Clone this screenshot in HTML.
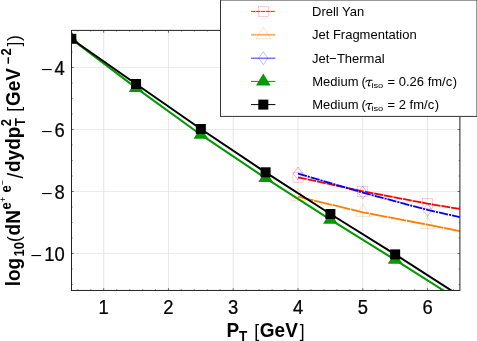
<!DOCTYPE html>
<html><head><meta charset="utf-8"><title>plot</title>
<style>
html,body{margin:0;padding:0;background:#fff;}
body{width:477px;height:341px;overflow:hidden;font-family:"Liberation Sans",sans-serif;}
svg{display:block;}
text{font-family:"Liberation Sans",sans-serif;fill:#000;}
.b{font-weight:bold;}
.tau{font-family:"Liberation Serif",serif;font-style:italic;}
</style></head><body>
<svg style="will-change:transform" width="477" height="341" viewBox="0 0 477 341">
<rect x="0" y="0" width="477" height="341" fill="#fff"/>
<defs><clipPath id="ax"><rect x="71.50" y="30.40" width="388.40" height="260.05"/></clipPath></defs>
<g stroke="#dedede" stroke-width="0.75" fill="none">
<line x1="103.69" y1="30.40" x2="103.69" y2="290.45"/>
<line x1="168.45" y1="30.40" x2="168.45" y2="290.45"/>
<line x1="233.22" y1="30.40" x2="233.22" y2="290.45"/>
<line x1="298.00" y1="30.40" x2="298.00" y2="290.45"/>
<line x1="362.76" y1="30.40" x2="362.76" y2="290.45"/>
<line x1="427.53" y1="30.40" x2="427.53" y2="290.45"/>
<line x1="71.50" y1="67.50" x2="459.90" y2="67.50" stroke="#e4e4e4"/>
<line x1="71.50" y1="129.50" x2="459.90" y2="129.50" stroke="#e4e4e4"/>
<line x1="71.50" y1="191.50" x2="459.90" y2="191.50" stroke="#e4e4e4"/>
<line x1="71.50" y1="253.50" x2="459.90" y2="253.50" stroke="#e4e4e4"/>
</g>
<g clip-path="url(#ax)" fill="none">
<polyline points="298.00,177.30 362.76,191.30 427.53,203.60 459.92,209.00" stroke="#ff0000" stroke-width="1.8" stroke-dasharray="8.85 0.9"/>
<rect x="293.00" y="172.30" width="10" height="10" stroke="#ff0000" stroke-width="0.45" stroke-opacity="0.42"/>
<rect x="357.76" y="186.30" width="10" height="10" stroke="#ff0000" stroke-width="0.45" stroke-opacity="0.42"/>
<rect x="422.53" y="198.60" width="10" height="10" stroke="#ff0000" stroke-width="0.45" stroke-opacity="0.42"/>
<polyline points="298.00,196.60 362.76,212.30 427.53,224.70 459.92,231.10" stroke="#ff7f00" stroke-width="1.8" stroke-dasharray="18.2 0.8" stroke-dashoffset="2.4"/>
<polygon points="298.00,188.80 290.69,200.60 305.30,200.60" stroke="#ff7f00" stroke-width="0.45" stroke-opacity="0.55"/>
<polygon points="362.76,204.50 355.46,216.30 370.06,216.30" stroke="#ff7f00" stroke-width="0.45" stroke-opacity="0.55"/>
<polygon points="427.53,216.90 420.23,228.70 434.83,228.70" stroke="#ff7f00" stroke-width="0.45" stroke-opacity="0.55"/>
<polyline points="298.00,173.60 362.76,192.60 427.53,209.90 459.92,217.20" stroke="#0000ff" stroke-width="1.8" stroke-dasharray="9.2 1.0 2.1 1.0"/>
<polygon points="298.00,167.10 302.60,173.60 298.00,180.10 293.39,173.60" stroke="#0000ff" stroke-width="0.45" stroke-opacity="0.55"/>
<polygon points="362.76,186.10 367.37,192.60 362.76,199.10 358.16,192.60" stroke="#0000ff" stroke-width="0.45" stroke-opacity="0.55"/>
<polygon points="427.53,203.40 432.13,209.90 427.53,216.40 422.93,209.90" stroke="#0000ff" stroke-width="0.45" stroke-opacity="0.55"/>
<polyline points="71.30,38.90 136.07,87.90 200.84,134.70 265.61,178.10 330.38,219.70 395.15,259.80 459.92,300.90" stroke="#009900" stroke-width="2"/>
<polygon points="71.30,31.10 64.00,42.90 78.60,42.90" fill="#009900"/>
<polygon points="136.07,80.10 128.77,91.90 143.37,91.90" fill="#009900"/>
<polygon points="200.84,126.90 193.54,138.70 208.14,138.70" fill="#009900"/>
<polygon points="265.61,170.30 258.31,182.10 272.91,182.10" fill="#009900"/>
<polygon points="330.38,211.90 323.08,223.70 337.68,223.70" fill="#009900"/>
<polygon points="395.15,252.00 387.85,263.80 402.45,263.80" fill="#009900"/>
<polyline points="71.30,38.80 136.07,84.00 200.84,129.00 265.61,172.30 330.38,214.00 395.15,254.40 459.92,296.00" stroke="#000" stroke-width="2"/>
<rect x="66.30" y="33.80" width="10" height="10" fill="#000"/>
<rect x="131.07" y="79.00" width="10" height="10" fill="#000"/>
<rect x="195.84" y="124.00" width="10" height="10" fill="#000"/>
<rect x="260.61" y="167.30" width="10" height="10" fill="#000"/>
<rect x="325.38" y="209.00" width="10" height="10" fill="#000"/>
<rect x="390.15" y="249.40" width="10" height="10" fill="#000"/>
</g>
<g stroke="#222222" stroke-width="0.65" fill="none">
<line x1="77.78" y1="290.45" x2="77.78" y2="289.35"/><line x1="77.78" y1="30.40" x2="77.78" y2="31.50"/>
<line x1="90.73" y1="290.45" x2="90.73" y2="289.35"/><line x1="90.73" y1="30.40" x2="90.73" y2="31.50"/>
<line x1="103.69" y1="290.45" x2="103.69" y2="288.15"/><line x1="103.69" y1="30.40" x2="103.69" y2="32.70"/>
<line x1="116.64" y1="290.45" x2="116.64" y2="289.35"/><line x1="116.64" y1="30.40" x2="116.64" y2="31.50"/>
<line x1="129.59" y1="290.45" x2="129.59" y2="289.35"/><line x1="129.59" y1="30.40" x2="129.59" y2="31.50"/>
<line x1="142.55" y1="290.45" x2="142.55" y2="289.35"/><line x1="142.55" y1="30.40" x2="142.55" y2="31.50"/>
<line x1="155.50" y1="290.45" x2="155.50" y2="289.35"/><line x1="155.50" y1="30.40" x2="155.50" y2="31.50"/>
<line x1="168.45" y1="290.45" x2="168.45" y2="288.15"/><line x1="168.45" y1="30.40" x2="168.45" y2="32.70"/>
<line x1="181.41" y1="290.45" x2="181.41" y2="289.35"/><line x1="181.41" y1="30.40" x2="181.41" y2="31.50"/>
<line x1="194.36" y1="290.45" x2="194.36" y2="289.35"/><line x1="194.36" y1="30.40" x2="194.36" y2="31.50"/>
<line x1="207.32" y1="290.45" x2="207.32" y2="289.35"/><line x1="207.32" y1="30.40" x2="207.32" y2="31.50"/>
<line x1="220.27" y1="290.45" x2="220.27" y2="289.35"/><line x1="220.27" y1="30.40" x2="220.27" y2="31.50"/>
<line x1="233.23" y1="290.45" x2="233.23" y2="288.15"/><line x1="233.23" y1="30.40" x2="233.23" y2="32.70"/>
<line x1="246.18" y1="290.45" x2="246.18" y2="289.35"/><line x1="246.18" y1="30.40" x2="246.18" y2="31.50"/>
<line x1="259.13" y1="290.45" x2="259.13" y2="289.35"/><line x1="259.13" y1="30.40" x2="259.13" y2="31.50"/>
<line x1="272.09" y1="290.45" x2="272.09" y2="289.35"/><line x1="272.09" y1="30.40" x2="272.09" y2="31.50"/>
<line x1="285.04" y1="290.45" x2="285.04" y2="289.35"/><line x1="285.04" y1="30.40" x2="285.04" y2="31.50"/>
<line x1="298.00" y1="290.45" x2="298.00" y2="288.15"/><line x1="298.00" y1="30.40" x2="298.00" y2="32.70"/>
<line x1="310.95" y1="290.45" x2="310.95" y2="289.35"/><line x1="310.95" y1="30.40" x2="310.95" y2="31.50"/>
<line x1="323.90" y1="290.45" x2="323.90" y2="289.35"/><line x1="323.90" y1="30.40" x2="323.90" y2="31.50"/>
<line x1="336.86" y1="290.45" x2="336.86" y2="289.35"/><line x1="336.86" y1="30.40" x2="336.86" y2="31.50"/>
<line x1="349.81" y1="290.45" x2="349.81" y2="289.35"/><line x1="349.81" y1="30.40" x2="349.81" y2="31.50"/>
<line x1="362.76" y1="290.45" x2="362.76" y2="288.15"/><line x1="362.76" y1="30.40" x2="362.76" y2="32.70"/>
<line x1="375.72" y1="290.45" x2="375.72" y2="289.35"/><line x1="375.72" y1="30.40" x2="375.72" y2="31.50"/>
<line x1="388.67" y1="290.45" x2="388.67" y2="289.35"/><line x1="388.67" y1="30.40" x2="388.67" y2="31.50"/>
<line x1="401.63" y1="290.45" x2="401.63" y2="289.35"/><line x1="401.63" y1="30.40" x2="401.63" y2="31.50"/>
<line x1="414.58" y1="290.45" x2="414.58" y2="289.35"/><line x1="414.58" y1="30.40" x2="414.58" y2="31.50"/>
<line x1="427.53" y1="290.45" x2="427.53" y2="288.15"/><line x1="427.53" y1="30.40" x2="427.53" y2="32.70"/>
<line x1="440.49" y1="290.45" x2="440.49" y2="289.35"/><line x1="440.49" y1="30.40" x2="440.49" y2="31.50"/>
<line x1="453.44" y1="290.45" x2="453.44" y2="289.35"/><line x1="453.44" y1="30.40" x2="453.44" y2="31.50"/>
<line x1="71.50" y1="284.50" x2="72.60" y2="284.50"/><line x1="459.90" y1="284.50" x2="458.80" y2="284.50"/>
<line x1="71.50" y1="269.00" x2="72.60" y2="269.00"/><line x1="459.90" y1="269.00" x2="458.80" y2="269.00"/>
<line x1="71.50" y1="253.50" x2="73.80" y2="253.50"/><line x1="459.90" y1="253.50" x2="457.60" y2="253.50"/>
<line x1="71.50" y1="238.00" x2="72.60" y2="238.00"/><line x1="459.90" y1="238.00" x2="458.80" y2="238.00"/>
<line x1="71.50" y1="222.50" x2="72.60" y2="222.50"/><line x1="459.90" y1="222.50" x2="458.80" y2="222.50"/>
<line x1="71.50" y1="207.00" x2="72.60" y2="207.00"/><line x1="459.90" y1="207.00" x2="458.80" y2="207.00"/>
<line x1="71.50" y1="191.50" x2="73.80" y2="191.50"/><line x1="459.90" y1="191.50" x2="457.60" y2="191.50"/>
<line x1="71.50" y1="176.00" x2="72.60" y2="176.00"/><line x1="459.90" y1="176.00" x2="458.80" y2="176.00"/>
<line x1="71.50" y1="160.50" x2="72.60" y2="160.50"/><line x1="459.90" y1="160.50" x2="458.80" y2="160.50"/>
<line x1="71.50" y1="145.00" x2="72.60" y2="145.00"/><line x1="459.90" y1="145.00" x2="458.80" y2="145.00"/>
<line x1="71.50" y1="129.50" x2="73.80" y2="129.50"/><line x1="459.90" y1="129.50" x2="457.60" y2="129.50"/>
<line x1="71.50" y1="114.00" x2="72.60" y2="114.00"/><line x1="459.90" y1="114.00" x2="458.80" y2="114.00"/>
<line x1="71.50" y1="98.50" x2="72.60" y2="98.50"/><line x1="459.90" y1="98.50" x2="458.80" y2="98.50"/>
<line x1="71.50" y1="83.00" x2="72.60" y2="83.00"/><line x1="459.90" y1="83.00" x2="458.80" y2="83.00"/>
<line x1="71.50" y1="67.50" x2="73.80" y2="67.50"/><line x1="459.90" y1="67.50" x2="457.60" y2="67.50"/>
<line x1="71.50" y1="52.00" x2="72.60" y2="52.00"/><line x1="459.90" y1="52.00" x2="458.80" y2="52.00"/>
<line x1="71.50" y1="36.50" x2="72.60" y2="36.50"/><line x1="459.90" y1="36.50" x2="458.80" y2="36.50"/>
</g>
<rect x="71.50" y="30.40" width="388.40" height="260.05" fill="none" stroke="#222222" stroke-width="1"/>
<text transform="translate(103.69,313.80) scale(1,1.080)" font-size="18.4" text-anchor="middle" stroke="#000" stroke-width="0.22">1</text>
<text transform="translate(168.45,313.80) scale(1,1.080)" font-size="18.4" text-anchor="middle" stroke="#000" stroke-width="0.22">2</text>
<text transform="translate(233.22,313.80) scale(1,1.080)" font-size="18.4" text-anchor="middle" stroke="#000" stroke-width="0.22">3</text>
<text transform="translate(298.00,313.80) scale(1,1.080)" font-size="18.4" text-anchor="middle" stroke="#000" stroke-width="0.22">4</text>
<text transform="translate(362.76,313.80) scale(1,1.080)" font-size="18.4" text-anchor="middle" stroke="#000" stroke-width="0.22">5</text>
<text transform="translate(427.53,313.80) scale(1,1.080)" font-size="18.4" text-anchor="middle" stroke="#000" stroke-width="0.22">6</text>
<text transform="translate(64.70,74.50) scale(1,1.070)" font-size="18.4" text-anchor="end" stroke="#000" stroke-width="0.22">4</text>
<rect x="42.00" y="69.00" width="9.7" height="1.1" fill="#000"/>
<text transform="translate(64.70,136.50) scale(1,1.070)" font-size="18.4" text-anchor="end" stroke="#000" stroke-width="0.22">6</text>
<rect x="42.00" y="131.00" width="9.7" height="1.1" fill="#000"/>
<text transform="translate(64.70,198.50) scale(1,1.070)" font-size="18.4" text-anchor="end" stroke="#000" stroke-width="0.22">8</text>
<rect x="42.00" y="193.00" width="9.7" height="1.1" fill="#000"/>
<text transform="translate(64.70,260.50) scale(1,1.070)" font-size="18.4" text-anchor="end" stroke="#000" stroke-width="0.22">10</text>
<rect x="31.40" y="255.00" width="9.7" height="1.1" fill="#000"/>
<text transform="translate(226.40,336.80) scale(1,1.055)" font-size="19" class="b">P</text>
<text transform="translate(238.90,341.00) scale(1,1.055)" font-size="13.5" class="b">T</text>
<text transform="translate(254.20,336.60) scale(1,1.055)" font-size="17.5">[</text>
<text transform="translate(259.80,336.80) scale(1,1.055)" font-size="19" class="b">GeV</text>
<text transform="translate(299.80,336.60) scale(1,1.055)" font-size="17.5">]</text>
<text transform="translate(20.00,286.30) rotate(-90) scale(1,1.055)" font-size="19" class="b">log</text>
<text transform="translate(24.00,256.50) rotate(-90) scale(1,1.055)" font-size="13" class="b">10</text>
<text transform="translate(20.00,242.10) rotate(-90) scale(1,1.055)" font-size="17.5">(</text>
<text transform="translate(20.00,235.50) rotate(-90) scale(1,1.055)" font-size="19" class="b">d</text>
<text transform="translate(20.00,223.80) rotate(-90) scale(1,1.055)" font-size="19" class="b">N</text>
<text transform="translate(10.90,209.60) rotate(-90) scale(1,1.055)" font-size="13" class="b">e</text>
<text transform="translate(5.70,202.00) rotate(-90) scale(1,1.055)" font-size="9">+</text>
<text transform="translate(10.90,192.60) rotate(-90) scale(1,1.055)" font-size="13" class="b">e</text>
<text transform="translate(6.00,185.30) rotate(-90) scale(1,1.055)" font-size="9">−</text>
<text transform="translate(22.70,178.40) rotate(-90) scale(1,1.055)" font-size="20.5">/</text>
<text transform="translate(20.00,172.00) rotate(-90) scale(1,1.055)" font-size="19" class="b">dydp</text>
<text transform="translate(10.80,126.20) rotate(-90) scale(1,1.055)" font-size="13" class="b">2</text>
<text transform="translate(24.50,126.20) rotate(-90) scale(1,1.055)" font-size="13.5" class="b">T</text>
<text transform="translate(19.80,111.70) rotate(-90) scale(1,1.055)" font-size="17.5">[</text>
<text transform="translate(20.00,106.00) rotate(-90) scale(1,1.055)" font-size="19" class="b">GeV</text>
<text transform="translate(12.60,64.40) rotate(-90) scale(1,1.055)" font-size="13" class="b">−</text>
<text transform="translate(11.00,55.60) rotate(-90) scale(1,1.055)" font-size="13" class="b">2</text>
<text transform="translate(19.80,46.50) rotate(-90) scale(1,1.055)" font-size="17.5">]</text>
<text transform="translate(19.80,41.00) rotate(-90) scale(1,1.055)" font-size="17.5">)</text>
<rect x="220.50" y="0.00" width="256.50" height="116.40" fill="#fff" stroke="#333333" stroke-width="1"/>
<g fill="none">
<line x1="251.0" y1="11.4" x2="275.4" y2="11.4" stroke="#ff0000" stroke-width="0.9" stroke-dasharray="4.3 0.55"/>
<rect x="258.30" y="6.40" width="10" height="10" stroke="#ff0000" stroke-width="0.45" stroke-opacity="0.42"/>
<line x1="251.0" y1="34.8" x2="275.4" y2="34.8" stroke="#ff7f00" stroke-width="1.9" stroke-opacity="0.6"/>
<polygon points="263.30,27.00 256.00,38.80 270.60,38.80" stroke="#ff7f00" stroke-width="0.45" stroke-opacity="0.55"/>
<line x1="251.0" y1="58.2" x2="275.4" y2="58.2" stroke="#0000ff" stroke-width="0.95" stroke-opacity="0.85"/>
<polygon points="263.30,51.70 267.90,58.20 263.30,64.70 258.70,58.20" stroke="#0000ff" stroke-width="0.45" stroke-opacity="0.55"/>
<line x1="251.0" y1="81.4" x2="275.4" y2="81.4" stroke="#009900" stroke-width="1"/>
<polygon points="263.30,73.60 256.00,85.40 270.60,85.40" fill="#009900"/>
<line x1="251.0" y1="104.6" x2="275.4" y2="104.6" stroke="#000" stroke-width="1"/>
<rect x="258.30" y="99.60" width="10" height="10" fill="#000"/>
</g>
<text transform="translate(312.00,15.80) scale(1,1.050)" font-size="13">Drell Yan</text>
<text transform="translate(312.00,39.20) scale(1,1.050)" font-size="13">Jet Fragmentation</text>
<text transform="translate(312.00,62.60) scale(1,1.050)" font-size="13">Jet−Thermal</text>
<text transform="translate(312.30,85.80) scale(1,1.050)" font-size="13">Medium</text>
<text transform="translate(361.40,85.50) scale(1,1.000)" font-size="13">(</text>
<g transform="translate(0,0.20)" fill="none" stroke="#000" stroke-width="1.05" stroke-linecap="round"><path d="M365.9,81.7 C366.4,80.4 367.1,80.0 368.1,80.0 L372.1,80.0"/><path d="M369.7,80.1 C369.3,82.0 368.2,84.2 368.4,85.2 C368.5,85.8 369.2,85.9 369.8,85.4"/></g>
<text transform="translate(371.4,88.1) scale(1.24,1)" font-size="7.5">iso</text>
<text transform="translate(387.60,85.80) scale(1,1.050)" font-size="13">= 0.26 fm/c</text>
<text transform="translate(452.70,85.50) scale(1,1.000)" font-size="13">)</text>
<text transform="translate(312.30,109.00) scale(1,1.050)" font-size="13">Medium</text>
<text transform="translate(361.40,108.70) scale(1,1.000)" font-size="13">(</text>
<g transform="translate(0,23.40)" fill="none" stroke="#000" stroke-width="1.05" stroke-linecap="round"><path d="M365.9,81.7 C366.4,80.4 367.1,80.0 368.1,80.0 L372.1,80.0"/><path d="M369.7,80.1 C369.3,82.0 368.2,84.2 368.4,85.2 C368.5,85.8 369.2,85.9 369.8,85.4"/></g>
<text transform="translate(371.4,111.3) scale(1.24,1)" font-size="7.5">iso</text>
<text transform="translate(387.60,109.00) scale(1,1.050)" font-size="13">= 2 fm/c</text>
<text transform="translate(434.80,108.70) scale(1,1.000)" font-size="13">)</text>
</svg>
</body></html>
